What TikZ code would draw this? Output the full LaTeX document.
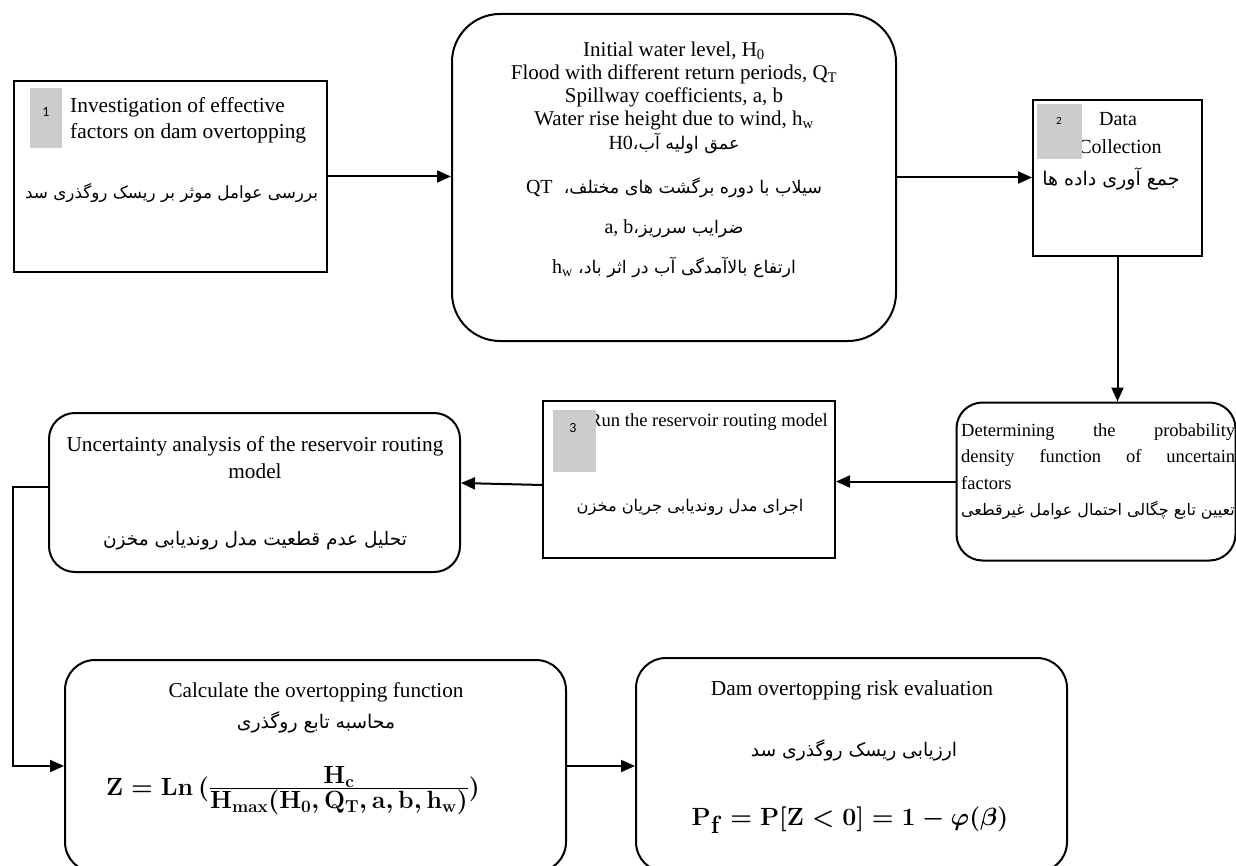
\documentclass[tikz,border=0pt]{standalone}
\usepackage{amsmath}
\usepackage{fontspec}
\setmainfont{Liberation Serif}
\newfontfamily\arabicfont[Script=Arabic]{DejaVu Sans}
\newfontfamily\numfont{Carlito}
\TeXXeTstate=1
\usetikzlibrary{arrows.meta}
\newcommand\pers[1]{{\arabicfont\beginR #1\endR}}
\newcommand\fsz[2]{\fontsize{#1}{#2}\selectfont}
\newcommand\lat[1]{\beginL{\rmfamily\fsz{20}{22}#1}\endL}
\newsavebox\fzbox
\newsavebox\fpbox
\begin{document}
\sbox\fzbox{\fsz{26}{30}\boldmath$\mathbf{Z}=\mathbf{Ln}\,(\frac{\displaystyle\mathbf{H_c}}{\displaystyle\mathbf{H_{max}}(\mathbf{H_0},\mathbf{Q_T},\mathbf{a},\mathbf{b},\mathbf{h_w})})$}%
\sbox\fpbox{\fsz{34}{38}\boldmath$\mathbf{P_f}=\mathbf{P}[\mathbf{Z}<\mathbf{0}]=\mathbf{1}-\varphi(\beta)$}%
\begin{tikzpicture}[x=1pt,y=-1pt,
  sqbox/.style={draw, line width=2pt, inner sep=0pt},
  rbox/.style={draw, line width=2pt, inner sep=0pt},
  graysq/.style={fill=black!20, draw=none, inner sep=0pt},
  num/.style={font=\numfont\fsz{14}{16}, inner sep=0pt},
  ttl/.style={inner sep=0pt, align=center},
  arr/.style={line width=2pt, -{Triangle[length=14pt,width=12pt]}}]
\clip (0,0) rectangle (1236,866);
\fill[white] (0,0) rectangle (1236,866);

% ---------- box 1
\node[sqbox, minimum width=313pt, minimum height=191pt] (b1) at (170.5,176.5) {};
\node[ttl, anchor=west, align=left, font=\fsz{21.4}{26}] (t1) at (70,120)
  {Investigation of effective\\factors on dam overtopping};
\node[graysq, minimum width=32pt, minimum height=60pt] (g1) at (46,118) {};
\node[num] (n1) at (46,112) {1};
\node[ttl] (p1) at (171.5,193) {\fsz{16.8}{19}\pers{بررسی عوامل موثر بر ریسک روگذری سد}};

% ---------- box 2
\node[rbox, rounded corners=48pt, minimum width=444pt, minimum height=327pt] (b2) at (674,177.5) {};
\node[ttl, font=\fsz{21}{22.8}] (t2) at (674,86)
  {Initial water level, H\textsubscript{0}\\Flood with different return periods, Q\textsubscript{T}\\Spillway coefficients, a, b\\Water rise height due to wind, h\textsubscript{w}};
\node[ttl] (p2a) at (674,143) {\fsz{17.5}{20}\pers{عمق اولیه آب،\lat{H0}}};
\node[ttl] (p2b) at (674,188) {\fsz{17.5}{20}\pers{سیلاب با دوره برگشت های مختلف،\ \ \lat{QT}}};
\node[ttl] (p2c) at (674,229) {\fsz{17.5}{20}\pers{ضرایب سرریز،\lat{a, b}}};
\node[ttl] (p2d) at (674,267) {\fsz{17.5}{20}\pers{ارتفاع بالاآمدگی آب در اثر باد، \lat{h\textsubscript{w}}}};

% ---------- box 3
\node[sqbox, minimum width=169pt, minimum height=156pt] (b3) at (1117.5,178) {};
\node[ttl, font=\fsz{20}{24}] (t3a) at (1118,119) {Data};
\node[ttl, font=\fsz{20}{24}] (t3b) at (1120,147) {Collection};
\node[graysq, minimum width=45pt, minimum height=55pt] (g3) at (1059.5,131.5) {};
\node[num, font=\numfont\fsz{11}{13}] (n3) at (1059,121) {2};
\node[ttl] (p3) at (1111,179) {\fsz{19}{21}\pers{جمع آوری داده ها}};

% ---------- box 4
\node[rbox, rounded corners=26pt, minimum width=279pt, minimum height=158pt] (b4) at (1096,481.5) {};
\node[inner sep=0pt, anchor=west, font=\fsz{18.5}{22}] (t4a) at (961,432)
  {\hbox to 274pt{Determining\hfill the\hfill probability}};
\node[inner sep=0pt, anchor=west, font=\fsz{18.5}{22}] (t4b) at (961,458)
  {\hbox to 274pt{density\hfill function\hfill of\hfill uncertain}};
\node[inner sep=0pt, anchor=west, font=\fsz{18.5}{22}] (t4c) at (961,483) {factors};
\node[ttl] (p4) at (1098,510) {\fsz{15.9}{18}\pers{تعیین تابع چگالی احتمال عوامل غیرقطعی}};

% ---------- box 5
\node[sqbox, minimum width=292pt, minimum height=157pt] (b5) at (689,479.5) {};
\node[ttl, anchor=west, font=\fsz{18.6}{21}] (t5) at (589,422) {Run the reservoir routing model};
\node[graysq, minimum width=43pt, minimum height=62pt] (g5) at (574.5,441) {};
\node[num] (n5) at (573,428) {3};
\node[ttl] (p5) at (690,507) {\fsz{16.2}{18}\pers{اجرای مدل روندیابی جریان مخزن}};

% ---------- box 6
\node[rbox, rounded corners=26pt, minimum width=411pt, minimum height=159pt] (b6) at (254.5,492.5) {};
\node[ttl, font=\fsz{21.3}{27}] (t6) at (255,458) {Uncertainty analysis of the reservoir routing\\model};
\node[ttl] (p6) at (255,541) {\fsz{18.5}{21}\pers{تحلیل عدم قطعیت مدل روندیابی مخزن}};

% ---------- box 7
\node[rbox, rounded corners=30pt, minimum width=501pt, minimum height=212pt] (b7) at (315.5,766) {};
\node[ttl, font=\fsz{21.2}{24}] (t7) at (316,692) {Calculate the overtopping function};
\node[ttl] (p7) at (316,722) {\fsz{18.8}{21}\pers{محاسبه تابع روگذری}};
\node[inner sep=0pt, anchor=base] (f7) at (293,795) {\usebox\fzbox};

% ---------- box 8
\node[rbox, rounded corners=30pt, minimum width=431pt, minimum height=214pt] (b8) at (851.5,765) {};
\node[ttl, font=\fsz{21.4}{24}] (t8) at (852,690) {Dam overtopping risk evaluation};
\node[ttl] (p8) at (854,750) {\fsz{18.7}{21}\pers{ارزیابی ریسک روگذری سد}};
\node[inner sep=0pt] (f8) at (850,820) {\usebox\fpbox};

% ---------- connectors
\draw[arr] (b1.east) -- (b1.east -| b2.west);
\draw[arr] (b2.east) -- (b2.east -| b3.west);
\draw[arr] (b3.south) -- (b3.south |- b4.north);
\draw[arr] (b4.west) -- (b4.west -| b5.east);
\draw[arr] ([yshift=-5.5pt]b5.west) -- ([yshift=9.5pt]b6.east);
\coordinate (c1) at ([xshift=-35pt,yshift=5.5pt]b6.west);
\draw[arr] ([yshift=5.5pt]b6.west) -- (c1) |- (b7.west);
\draw[arr] (b7.east) -- (b7.east -| b8.west);
\end{tikzpicture}
\end{document}
